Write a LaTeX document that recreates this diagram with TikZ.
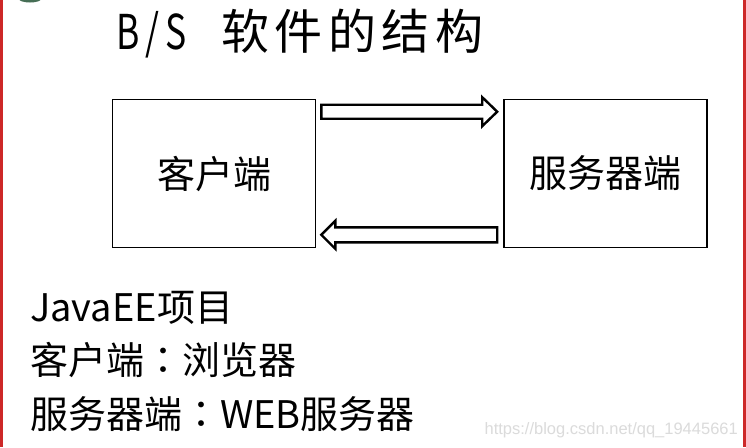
\documentclass[tikz,border=0pt]{standalone}
\usepackage{fontspec}
\usepackage{graphicx}
\setmainfont{Noto Sans CJK SC}
\newfontfamily\titlefont[LetterSpace=11.5]{Noto Sans CJK SC}
\newfontfamily\colonfont{Noto Sans CJK TC}
\newfontfamily\wmfont{Liberation Sans}
\usetikzlibrary{calc}
\definecolor{frame}{RGB}{205,40,40}
\definecolor{blob}{RGB}{70,110,85}
\newcommand\fwcolon{{\colonfont ：}}
\newcommand\hwch[1]{\makebox[24pt][c]{\scalebox{0.74}[1]{#1}}}
\tikzset{
  box/.style={draw=black, line width=1.6pt, minimum width=203pt, minimum height=148pt, inner sep=0pt, font=\fontsize{38}{40}\selectfont},
  fat/.style={draw=black, line width=2.4pt, line join=miter, fill=white},
  body/.style={anchor=west, inner sep=0pt, font=\fontsize{38}{40}\selectfont},
}
\begin{document}
\begin{tikzpicture}[x=1pt,y=-1pt]
\useasboundingbox (0,0) rectangle (746,447);
\fill[white] (0,0) rectangle (746,447);
% frame
\fill[frame] (0,0) rectangle (2.5,447);
\fill[frame] (743,0) rectangle (746,447);
\fill[blob] (30,-1) ellipse (11 and 3.5);
% title
\node[anchor=west, inner sep=0pt, font=\titlefont\fontsize{48}{50}\selectfont] (title) at (116,33.5)
  {\hwch{B}\hwch{/}\hwch{S}\hspace{33pt}软件的结构};
% boxes
\node[box] (L) at (214,173.5) {客户端};
\node[box] (R) at (605.5,173.5) {服务器端};
% arrow end points
\coordinate (t1) at ($(L.north east)+(5,13)$);
\coordinate (t2) at ($(R.north west)+(-6,13)$);
\coordinate (b1) at ($(R.south west)+(-6,-13.5)$);
\coordinate (b2) at ($(L.south east)+(5,-13.5)$);
% top arrow (right)
\draw[fat] ($(t1)+(0,-7)$) -- ($(t2)+(-15,-7)$) -- ($(t2)+(-15,-14.5)$) -- (t2)
  -- ($(t2)+(-15,14.5)$) -- ($(t2)+(-15,7)$) -- ($(t1)+(0,7)$) -- cycle;
% bottom arrow (left)
\draw[fat] ($(b1)+(0,-7.5)$) -- ($(b2)+(14,-7.5)$) -- ($(b2)+(14,-14)$) -- (b2)
  -- ($(b2)+(14,14)$) -- ($(b2)+(14,7.5)$) -- ($(b1)+(0,7.5)$) -- cycle;
% body text
\node[body] (t1line) at (30,308) {JavaEE项目};
\node[body] (t2line) at (30,360) {客户端\fwcolon 浏览器};
\node[body] (t3line) at (30,414) {服务器端\fwcolon WEB服务器};
% watermark
\node[anchor=east, inner sep=0pt, text=black!14, font=\wmfont\fontsize{16.5}{18}\selectfont] (wm) at (738,430) {https://blog.csdn.net/qq\_19445661};
\end{tikzpicture}
\end{document}
